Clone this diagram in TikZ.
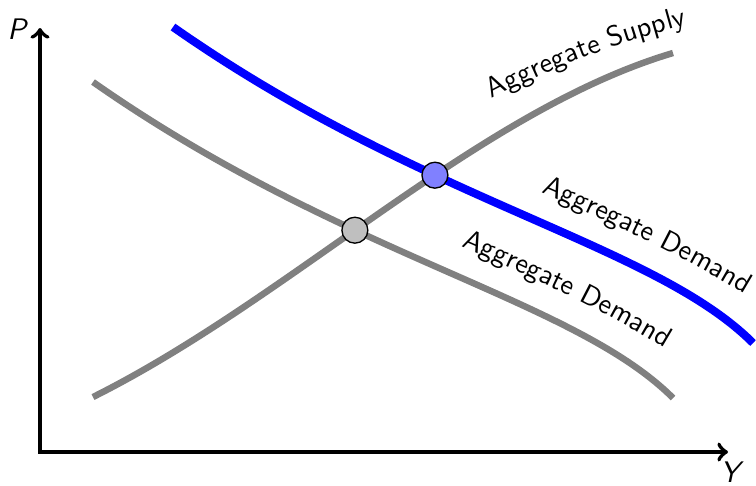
\documentclass[tikz,border=0pt]{standalone}
\usetikzlibrary{decorations.text,intersections}
\begin{document}
\begin{tikzpicture}[x={(0.37pt,0)}, y={(0,-0.37pt)},
  oldcurve/.style={line width=2.4pt, draw=gray},
  newcurve/.style={line width=3pt, draw=blue},
  axisline/.style={line width=1.5pt, <->},
  eqpoint/.style={circle, draw=black, line width=0.5pt, minimum size=9.6pt, inner sep=0pt},
  axlabel/.style={font=\fontsize{11}{13}\selectfont\sffamily\itshape, inner sep=0pt},
  curvelabel/.style={decorate, decoration={text along path, text align=left, text={|\fontsize{10.5}{13}\selectfont\sffamily|#1}}}
]
\useasboundingbox (0,0) rectangle (756,485);

% axes
\coordinate (ytop) at (40,28);
\coordinate (O) at (40,452);
\coordinate (xend) at (728,452);
\draw[axisline] (ytop) -- (O) -- (xend);
\node[axlabel] (P) at (17,29) {P};
\node[axlabel] (Y) at (730,472) {Y};

% aggregate supply
\draw[oldcurve, name path global=AS] (93,397) .. controls (293,297) and (478,111) .. (673,53);
\path[curvelabel={Aggregate Supply}] (492,99) .. controls (550,68) and (620,40) .. (730,14);

% original aggregate demand
\draw[oldcurve, name path global=ADa] (93,82) .. controls (343,257) and (573,298) .. (673,398);
\path[curvelabel={Aggregate Demand}] (461,246) .. controls (530,276) and (610,312) .. (700,370);

% shifted aggregate demand
\begin{scope}[shift={(80,-55)}]
\draw[newcurve, name path global=ADb] (93,82) .. controls (343,257) and (573,298) .. (673,398);
\path[curvelabel={Aggregate Demand}] (461,247) .. controls (530,277) and (610,313) .. (700,371);
\end{scope}

% equilibria
\path[name intersections={of=AS and ADa, by=Ea}];
\path[name intersections={of=AS and ADb, by=Eb}];
\node[eqpoint, fill=lightgray] (E1) at (Ea) {};
\node[eqpoint, fill=blue!50] (E2) at (Eb) {};
\end{tikzpicture}
\end{document}
